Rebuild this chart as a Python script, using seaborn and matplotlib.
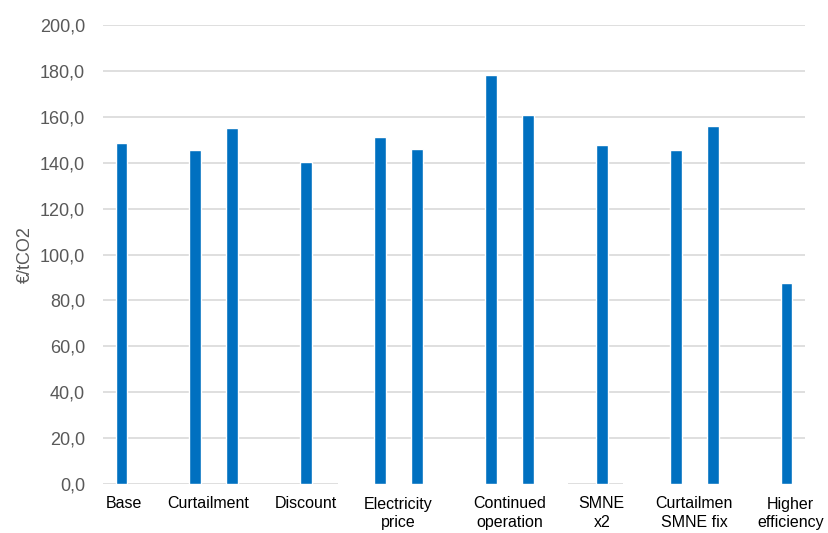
import numpy as np
import pandas as pd
import matplotlib
matplotlib.use("Agg")
import matplotlib.pyplot as plt
import seaborn as sns

# ---- data ----
slot_ids = [f"s{i}" for i in range(19)]
slot_values = [148.4, np.nan, 145.5, 155.0, np.nan, 140.3, np.nan, 151.3, 146.1, np.nan,
               178.1, 160.9, np.nan, 147.7, np.nan, 145.4, 155.9, np.nan, 87.6]
category_labels = ["Base", "Curtailment", "Discount", "Electricity\nprice",
                   "Continued\noperation", "SMNE\nx2", "Curtailmen\nSMNE fix",
                   "Higher\nefficiency"]
category_positions = [0.07, 2.35, 5.0, 7.5, 10.5, 13.0, 15.5, 18.1]
y_ticks = [0, 20, 40, 60, 80, 100, 120, 140, 160, 180, 200]
y_tick_labels = [f"{v:.1f}".replace(".", ",") for v in y_ticks]

df = pd.DataFrame({"slot": slot_ids, "value": slot_values})

sns.set_theme(style="white")
plt.rcParams["font.family"] = ["Liberation Sans", "DejaVu Sans"]

fig = plt.figure(figsize=(8.29, 5.33), dpi=100)
ax = fig.add_axes([103 / 829, 1 - 484 / 533, (805 - 103) / 829, (484 - 25) / 533])

sns.barplot(data=df, x="slot", y="value", order=slot_ids, color="#0070C0",
            saturation=1, width=0.32, ax=ax, zorder=3)

ax.set_xlim(-0.5, 18.5)
ax.set_ylim(0, 200)

# gridlines (the 0 line is partly hidden behind label boxes in the original)
for v in y_ticks[1:]:
    ax.axhline(v, color="#D9D9D9", lw=1.2, zorder=1)
ax.hlines(0, -0.5, 5.86, color="#D9D9D9", lw=1.2, zorder=1)
ax.hlines(0, 12.09, 13.57, color="#D9D9D9", lw=1.2, zorder=1)

for s in ax.spines.values():
    s.set_visible(False)

ax.set_yticks(y_ticks)
ax.set_yticklabels(y_tick_labels, fontsize=13, color="#595959")
ax.tick_params(axis="y", length=0, pad=13)

ax.set_xticks(category_positions)
ax.set_xticklabels(category_labels, fontsize=11.5, color="#000000",
                   linespacing=1.3)
ax.tick_params(axis="x", length=0, pad=9)

ax.set_xlabel("")
ax.set_ylabel("€/tCO2", fontsize=13, color="#595959", labelpad=4)

fig.savefig("out.png", dpi=100)
